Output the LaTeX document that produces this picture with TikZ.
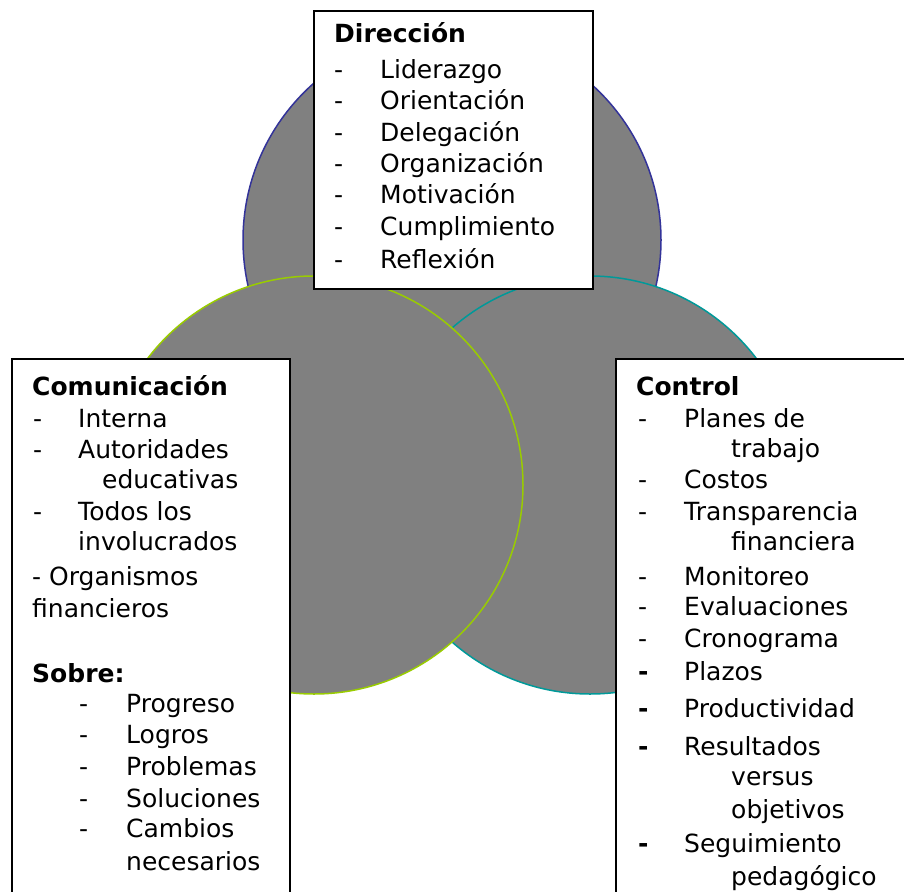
\documentclass[tikz,border=0pt]{standalone}
\usepackage{fontspec}
\setmainfont{DejaVu Sans}
\definecolor{cgray}{HTML}{808080}
\definecolor{cblue}{HTML}{333399}
\definecolor{cgreen}{HTML}{99CC00}
\definecolor{cteal}{HTML}{009999}
\begin{document}
\begin{tikzpicture}[x=1pt,y=-1pt,
  txt/.style={anchor=base west, inner sep=0pt, font=\fontsize{25}{30}\selectfont},
  hd/.style={anchor=base west, inner sep=0pt, font=\fontsize{25}{30}\selectfont\bfseries},
  boxnode/.style={draw=black, line width=1.8pt, fill=white, rectangle, inner sep=0pt, anchor=north west},
  venn/.style={fill=cgray, line width=1.5pt}]
\useasboundingbox (0,0) rectangle (904,891);
\clip (0,0) rectangle (904,891);
% circles
\draw[venn, draw=cblue] (452,240) circle[radius=209pt];
\draw[venn, draw=cteal] (590,485) circle[radius=209pt];
\draw[venn, draw=cgreen] (314,485) circle[radius=209pt];
% boxes
\node[boxnode, minimum width=279pt, minimum height=278pt] (dirbox) at (313,10) {};
\node[boxnode, minimum width=278pt, minimum height=560pt] (combox) at (11,358) {};
\node[boxnode, minimum width=320pt, minimum height=560pt] (conbox) at (615,358) {};
% Direccion
\node[hd] (dh) at (334,43) {Dirección};
\foreach \yy/\tt [count=\i] in {78/Liderazgo,109/Orientación,141/Delegación,172/Organización,203/Motivación,235/Cumplimiento,268/Reflexión}{
  \node[txt] (dd\i) at (334,\yy) {-};
  \node[txt] (dt\i) at (380,\yy) {\tt};
}
% Comunicacion
\node[hd] (ch) at (32,395) {Comunicación};
\foreach \yy/\tt [count=\i] in {427/Interna,458/Autoridades,520/Todos los}{
  \node[txt] (cd\i) at (33,\yy) {-};
  \node[txt] (ct\i) at (78,\yy) {\tt};
}
\node[txt] (ce1) at (102,488) {educativas};
\node[txt] (ce2) at (78,550) {involucrados};
\node[txt] (ce3) at (32,585) {- Organismos};
\node[txt] (ce4) at (32,617) {financieros};
\node[hd] (sh) at (32,682) {Sobre:};
\foreach \yy/\tt [count=\i] in {712/Progreso,743/Logros,775/Problemas,807/Soluciones,837/Cambios}{
  \node[txt] (sd\i) at (79,\yy) {-};
  \node[txt] (st\i) at (126,\yy) {\tt};
}
\node[txt] (se1) at (126,870) {necesarios};
% Control
\node[hd] (kh) at (636,395) {Control};
\foreach \yy/\tt [count=\i] in {427/Planes de,488/Costos,520/Transparencia,585/Monitoreo,615/Evaluaciones,647/Cronograma}{
  \node[txt] (kd\i) at (638,\yy) {-};
  \node[txt] (kt\i) at (684,\yy) {\tt};
}
\foreach \yy/\tt [count=\i] in {680/Plazos,717/Productividad,755/Resultados,852/Seguimiento}{
  \node[txt] (kb\i) at (638,\yy) {\textbf{-}};
  \node[txt] (ku\i) at (684,\yy) {\tt};
}
\foreach \yy/\tt [count=\i] in {457/trabajo,550/financiera,785/versus,818/objetivos,885/pedagógico}{
  \node[txt] (kc\i) at (731,\yy) {\tt};
}
\end{tikzpicture}
\end{document}
